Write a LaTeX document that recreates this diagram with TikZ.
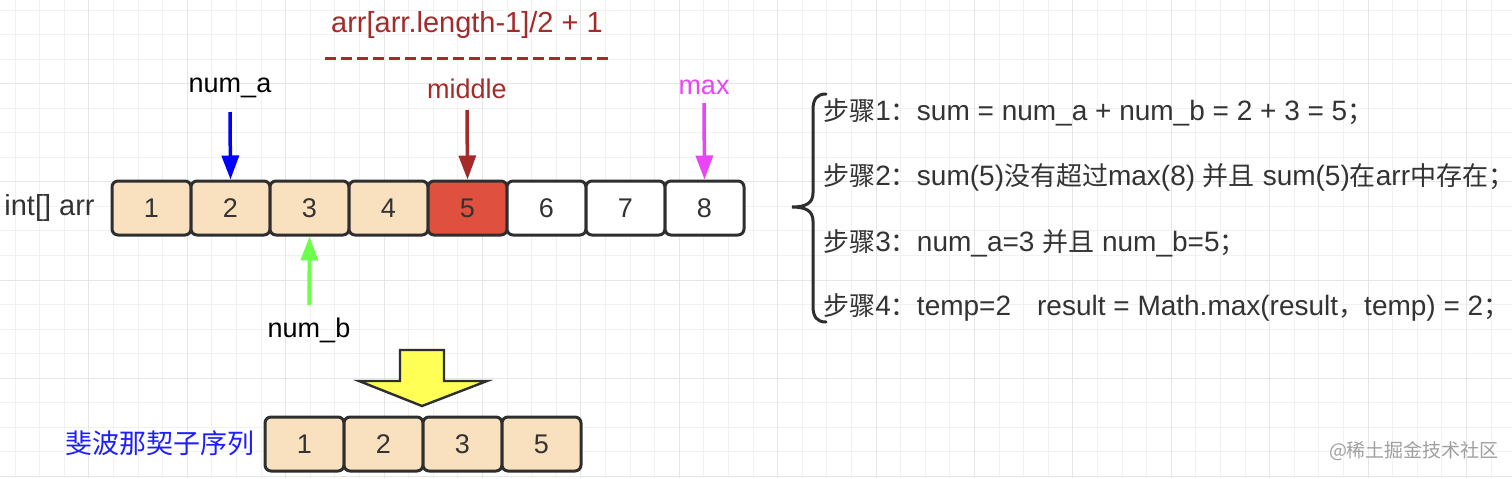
\documentclass[tikz,border=0pt]{standalone}
\usepackage{fontspec}
\setmainfont{Liberation Sans}
\newfontfamily\cjk{Noto Sans CJK SC}
\usetikzlibrary{arrows.meta}
\definecolor{peach}{HTML}{F9E0BE}
\definecolor{cellred}{HTML}{E0503F}
\definecolor{boxline}{HTML}{2E2E2E}
\definecolor{textgray}{HTML}{333333}
\definecolor{darkred}{HTML}{A52A2A}
\definecolor{mag}{HTML}{E845F5}
\definecolor{lgreen}{HTML}{6CFF4A}
\definecolor{pblue}{HTML}{0000FF}
\definecolor{lblue}{HTML}{1E1EFF}
\definecolor{yel}{HTML}{FFFF55}
\definecolor{gridminor}{HTML}{F1F1F1}
\definecolor{gridmajor}{HTML}{E6E6E6}
\definecolor{wm}{HTML}{A0A0A0}
\newcommand\Zh[1]{{\cjk\fontsize{13pt}{15pt}\selectfont #1}}
\begin{document}
\begin{tikzpicture}[x=0.5pt,y=-0.5pt,
  cell/.style={draw=boxline, line width=1.5pt, rounded corners=3pt,
    minimum width=39.5pt, minimum height=27pt, inner sep=0pt,
    text=textgray, font=\fontsize{13.5pt}{15pt}\selectfont},
  lab/.style={inner sep=0pt, font=\fontsize{13.5pt}{16pt}\selectfont},
  steptext/.style={anchor=west, inner sep=0pt, text=textgray,
    font=\fontsize{14pt}{17pt}\selectfont},
  arr/.style={line width=1.75pt, -{Triangle[length=12pt,width=8.5pt]}},
  gminor/.style={draw=gridminor, line width=0.5pt},
  gmajor/.style={draw=gridmajor, line width=0.5pt}]
\useasboundingbox (0,0) rectangle (1512,478);
\fill[white] (0,0) rectangle (1512,478);
% grid
\foreach \i in {0,...,61} {\draw[gminor] (15+24.6*\i,0) -- (15+24.6*\i,478);}
\foreach \j in {0,...,19} {\draw[gminor] (0,10+24.55*\j) -- (1512,10+24.55*\j);}
\foreach \i in {0,...,15} {\draw[gmajor] (88.8+98.4*\i,0) -- (88.8+98.4*\i,478);}
\foreach \j in {0,...,4} {\draw[gmajor] (0,83.65+98.2*\j) -- (1512,83.65+98.2*\j);}

% top array
\node[inner sep=0pt, anchor=west, font=\fontsize{14.5pt}{17pt}\selectfont, text=textgray] (arrlab) at (4,208) {int[] arr};
\node[cell, fill=peach] (b1) at (151.5,208) {1};
\node[cell, fill=peach] (b2) at (230.5,208) {2};
\node[cell, fill=peach] (b3) at (309.5,208) {3};
\node[cell, fill=peach] (b4) at (388.5,208) {4};
\node[cell, fill=cellred] (b5) at (467.5,208) {5};
\node[cell, fill=white] (b6) at (546.5,208) {6};
\node[cell, fill=white] (b7) at (625.5,208) {7};
\node[cell, fill=white] (b8) at (704.5,208) {8};

% title and dashed line
\node[inner sep=0pt, text=darkred, font=\fontsize{14.5pt}{17pt}\selectfont] (title) at (467,25) {arr[arr.length-1]/2 + 1};
\coordinate (d1) at (325,58);
\coordinate (d2) at (608,58);
\draw[darkred, line width=1.5pt, dash pattern=on 5.5pt off 2.5pt] (d1) -- (d2);

% labels and pointers
\node[lab, text=black] (la) at (230,88) {num\_a};
\node[lab, text=darkred] (lm) at (467,89) {middle};
\node[lab, text=mag] (lx) at (704,87) {max};
\node[lab, text=black] (lb) at (309,330) {num\_b};
\coordinate (sa) at (230,112);
\coordinate (sm) at (467,110);
\coordinate (sx) at (704,103);
\coordinate (sb) at (309,305);
\draw[arr, pblue] (sa) -- (b2.north);
\draw[arr, darkred] (sm) -- (b5.north);
\draw[arr, mag] (sx) -- (b8.north);
\draw[arr, lgreen] (sb) -- (b3.south);

% yellow block arrow
\draw[fill=yel, draw=boxline, line width=1.2pt, line join=miter]
  (400,350) -- (444,350) -- (444,381) -- (487,381) -- (422,406) -- (359,381) -- (400,381) -- cycle;

% bottom array
\node[inner sep=0pt, text=lblue, font=\cjk\fontsize{13.5pt}{16pt}\selectfont] (fib) at (160,443) {斐波那契子序列};
\node[cell, fill=peach] (c1) at (304.5,444) {1};
\node[cell, fill=peach] (c2) at (383.5,444) {2};
\node[cell, fill=peach] (c3) at (462.5,444) {3};
\node[cell, fill=peach] (c4) at (541.5,444) {5};

% brace
\draw[boxline, line width=1.5pt, line cap=round]
  (826,94) .. controls (817,94) and (813,99) .. (813,110) -- (813,193)
  .. controls (813,203) and (806,207) .. (792,207)
  .. controls (806,207) and (813,211) .. (813,221) -- (813,306)
  .. controls (813,317) and (817,322) .. (826,322);

% steps
\node[steptext] (s1) at (823,112) {\Zh{步骤}1\Zh{：}sum = num\_a + num\_b = 2 + 3 = 5\Zh{；}};
\node[steptext] (s2) at (823,177) {\Zh{步骤}2\Zh{：}sum(5)\Zh{没有超过}max(8) \Zh{并且} sum(5)\Zh{在}arr\Zh{中存在；}};
\node[steptext] (s3) at (823,243) {\Zh{步骤}3\Zh{：}num\_a=3 \Zh{并且} num\_b=5\Zh{；}};
\node[steptext] (s4) at (823,307) {\Zh{步骤}4\Zh{：}temp=2\hspace{13pt}result = Math.max(result\Zh{，}temp) = 2\Zh{；}};

% watermark
\node[inner sep=0pt, text=wm, font=\cjk\fontsize{9.5pt}{11pt}\selectfont] (wmk) at (1414,451) {@稀土掘金技术社区};
\end{tikzpicture}
\end{document}
